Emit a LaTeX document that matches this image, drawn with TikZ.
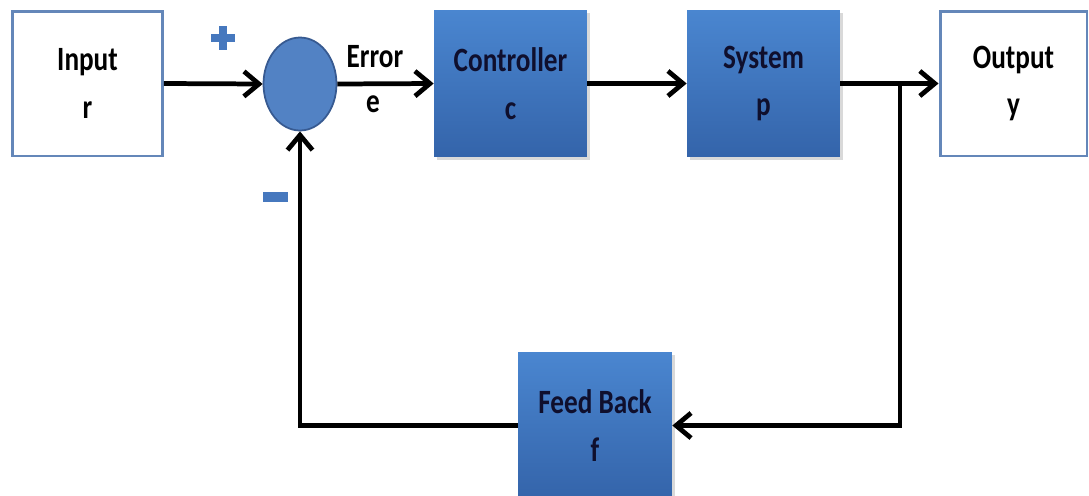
\documentclass[tikz,border=0pt]{standalone}
\usepackage{fontspec}
\setmainfont{Carlito}
\usepackage{graphicx}
\usetikzlibrary{arrows.meta,shapes.geometric,calc}
\definecolor{boxtop}{RGB}{74,134,208}
\definecolor{boxbot}{RGB}{52,100,170}
\definecolor{wborder}{RGB}{100,135,185}
\definecolor{navy}{RGB}{15,15,45}
\definecolor{sumfill}{RGB}{82,130,196}
\definecolor{sumedge}{RGB}{55,90,145}
\definecolor{signcol}{RGB}{70,120,190}
\newcommand{\tx}[1]{\scalebox{1}[1.25]{#1}}
\begin{document}
\begin{tikzpicture}[x=0.02cm,y=-0.02cm,
  txt/.style={font=\fontsize{15.5}{27}\selectfont\bfseries, align=center},
  bluebox/.style={txt, draw=none, top color=boxtop, bottom color=boxbot, text=navy,
     minimum width=3.06cm, minimum height=2.94cm, inner sep=0pt},
  whitebox/.style={txt, draw=wborder, line width=1.7pt, fill=white, text=black,
     minimum width=3.0cm, minimum height=2.9cm, inner sep=0pt},
  conn/.style={line width=2.7pt, black},
  arr/.style={conn, -{Straight Barb[length=3mm,width=5mm]}},
  sign/.style={fill=signcol, inner sep=0pt}]
\useasboundingbox (0,0) rectangle (1089,495);
\clip (0,0) rectangle (1089,495);
\fill[white] (0,0) rectangle (1089,495);
% shadows
\fill[black!15] (437,13) rectangle (590,160);
\fill[black!15] (690,13) rectangle (843,160);
\fill[black!15] (521,355) rectangle (675,500);
\node[whitebox] (in) at (87.5,83.5) {\tx{Input}\\\tx{r}};
\node[whitebox, minimum width=2.94cm] (out) at (1013.5,83.5) {\tx{Output}\\\tx{y}};
\node[bluebox] (ctrl) at (510.5,83.5) {\tx{Controller}\\\tx{c}};
\node[bluebox] (sys) at (763.5,83.5) {\tx{System}\\\tx{p}};
\node[bluebox, minimum width=3.08cm] (fb) at (595,425.5) {\tx{Feed Back}\\\tx{f}};
\node[ellipse, draw=sumedge, line width=1pt, fill=sumfill, minimum width=1.46cm, minimum height=1.86cm, inner sep=0pt] (sum) at (300,84) {};
\node[txt, text=black] (err) at (375,57) {\tx{Error}};
\node[txt, text=black] (e) at (373,104) {\tx{e}};
% plus and minus signs
\node[sign, minimum width=0.48cm, minimum height=0.16cm] (plush) at (223,38) {};
\node[sign, minimum width=0.16cm, minimum height=0.48cm] (plusv) at (223,38) {};
\node[sign, minimum width=0.5cm, minimum height=0.2cm] (minus) at (275,197) {};
\coordinate (branch) at (900,83.5);
\draw[arr] (in.east) -- (sum.west);
\draw[arr] (sum.east) -- (ctrl.west);
\draw[arr] (ctrl.east) -- (sys.west);
\draw[arr] (sys.east) -- (out.west);
\draw[arr] (branch) |- (fb.east);
\draw[arr] (fb.west) -| (sum.south);
\end{tikzpicture}
\end{document}
